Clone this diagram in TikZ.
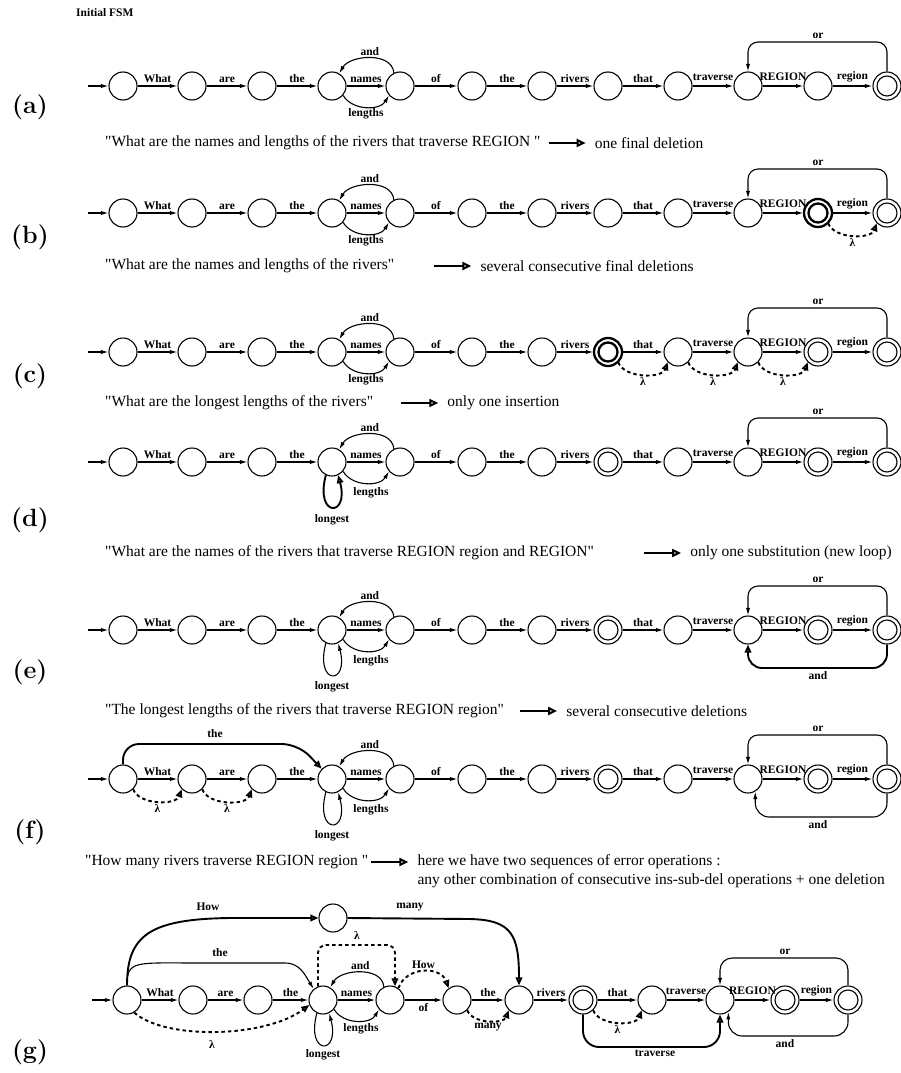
\documentclass[tikz,border=0pt]{standalone}
\usepackage{fontspec}
\setmainfont{Liberation Serif}
\newfontfamily\lmr{Latin Modern Roman}
\usetikzlibrary{arrows.meta,calc}
\newcommand\q{\textquotedbl}
\tikzset{
  sq/.style={circle,draw,line width=1.1pt,minimum size=28pt,inner sep=0pt},
  inr/.style={circle,draw,line width=1.1pt,minimum size=20pt,inner sep=0pt},
  ed/.style={-{Latex[length=7.5pt,width=4.2pt]},line width=1.1pt},
  er/.style={-{Triangle[open,length=8pt,width=6.5pt]},line width=1.9pt},
  lm/.style={er,dash pattern=on 3.5pt off 3pt},
  lb/.style={font=\bfseries\fontsize{11.5}{12}\selectfont,inner sep=1pt},
  sen/.style={font=\fontsize{15.5}{17}\selectfont,anchor=west,inner sep=0pt},
  tag/.style={font=\lmr\bfseries\fontsize{25}{27}\selectfont,inner sep=0pt},
  sarr/.style={-{Triangle[open,length=9pt,width=8pt]},line width=2pt},
}
\newcommand\rowbase[2]{%
  \foreach \i/\x in {1/123,2/192,3/262,4/332,5/400,6/472,7/542,8/608,9/678,10/748,11/818,12/887}{\node[sq] (#1\i) at (\x,-#2) {};}
  \coordinate (#1in) at (88,-#2);
  \draw[ed] (#1in) -- (#11);
  \draw[ed] (#11) -- node[lb,above=2pt]{What} (#12);
  \draw[ed] (#12) -- node[lb,above=2pt]{are} (#13);
  \draw[ed] (#13) -- node[lb,above=2pt]{the} (#14);
  \draw[ed] (#14) -- node[lb,above=2pt]{names} (#15);
  \draw[ed] (#15.115) to[out=95,in=60,looseness=1.0] node[lb,above=1pt]{and} (#14.60);
  \draw[ed] (#14.-40) to[out=-60,in=-120,looseness=1.0] (#15.-140);
  \draw[ed] (#15) -- node[lb,above=2pt]{of} (#16);
  \draw[ed] (#16) -- node[lb,above=2pt]{the} (#17);
  \draw[ed] (#17) -- node[lb,above=2pt]{rivers} (#18);
  \draw[ed] (#18) -- node[lb,above=2pt]{that} (#19);
  \draw[ed] (#19) -- node[lb,above=4pt]{traverse} (#110);
  \draw[ed] (#110) -- node[lb,above=4pt]{REGION} (#111);
  \draw[ed] (#111) -- node[lb,above=2pt]{region} (#112);
  \coordinate (#1or) at (818,-#2+44);
  \draw[ed,rounded corners=10pt] (#112.north) |- (#1or) -| (#110.north);
  \node[lb,above=2pt] (#1orl) at (#1or) {or};
}
\newcommand\fin[1]{\node[inr] (#1i) at (#1) {};}
\newcommand\bfin[1]{\node[sq,line width=2.3pt] (#1o) at (#1) {};\node[inr,line width=2.3pt,minimum size=19pt] (#1i) at (#1) {};}
\newcommand\lam[3]{\draw[lm] (#1.-45) to[out=-70,in=-110,looseness=0.9] node[lb,below=1pt] (#3) {λ} (#2.-135);}
\newcommand\longloop[2]{\draw[#2] (#1.-115) .. controls +(-105:44) and +(-75:44) .. (#1.-65);}
% sentence line: #1 name, #2 y, #3 x, #4 text, #5 gap, #6 result
\newcommand\sentence[6]{%
  \node[sen] (s#1) at (#3,-#2) {#4};
  \coordinate (s#1a) at ($(s#1.east)+(#5,0)$);
  \coordinate (s#1b) at ($(s#1a)+(37,0)$);
  \draw[sarr] (s#1a) -- (s#1b);
  \node[sen] (r#1) at ($(s#1b)+(9,0)$) {#6};
}
\begin{document}
\begin{tikzpicture}[x=1pt,y=1pt]
\useasboundingbox (0,0) rectangle (901,-1073);

\node[lb,anchor=west] (title) at (75,-13) {Initial FSM};

% ---------------- (a)
\rowbase{a}{86}
\fin{a12}
\node[lb] (alen) at (366,-114) {lengths};
\node[tag] (ta) at (30,-107) {(a)};
\sentence{a}{143}{105}{\q What are the names and lengths of the rivers that traverse REGION \q}{8}{one final deletion}

% ---------------- (b)
\rowbase{b}{213}
\bfin{b11}\fin{b12}
\lam{b11}{b12}{bl1}
\node[lb] (blen) at (366,-241) {lengths};
\node[tag] (tb) at (30,-237) {(b)};
\sentence{b}{266}{105}{\q What are the names and lengths of the rivers\q}{40}{several consecutive final deletions}

% ---------------- (c)
\rowbase{c}{352}
\bfin{c8}\fin{c11}\fin{c12}
\lam{c8}{c9}{cl1}\lam{c9}{c10}{cl2}\lam{c10}{c11}{cl3}
\node[lb] (clen) at (366,-380) {lengths};
\node[tag] (tc) at (30,-376) {(c)};
\sentence{c}{403}{105}{\q What are the longest lengths of the rivers\q}{28}{only one insertion}

% ---------------- (d)
\rowbase{d}{462}
\fin{d8}\fin{d11}\fin{d12}
\longloop{d4}{er}
\node[lb] (dlen) at (371,-493) {lengths};
\node[lb] (dlong) at (332,-520) {longest};
\node[tag] (td) at (30,-520) {(d)};
\sentence{d}{553}{105}{\q What are the names of the rivers that traverse REGION region and REGION\q}{50}{only one substitution (new loop)}

% ---------------- (e)
\rowbase{e}{630}
\fin{e8}\fin{e11}\fin{e12}
\longloop{e4}{ed}
\coordinate (eand) at (818,-668);
\draw[er,rounded corners=14pt] (e12.south) |- (eand) -| (e10.south);
\node[lb,below=2pt] (eandl) at (eand) {and};
\node[lb] (elen) at (371,-661) {lengths};
\node[lb] (elong) at (332,-687) {longest};
\node[tag] (te) at (30,-672) {(e)};
\sentence{e}{711}{105}{\q The longest lengths of the rivers that traverse REGION region\q}{16}{several consecutive deletions}

% ---------------- (f)
\rowbase{f}{779}
\fin{f8}\fin{f11}\fin{f12}
\longloop{f4}{ed}
\lam{f1}{f2}{fl1}\lam{f2}{f3}{fl2}
\coordinate (fthe1) at (123,-744); \coordinate (fthe2) at (298,-744);
\draw[er,rounded corners=16pt] (f1.north) -- (fthe1) -- (fthe2) -- (f4.135);
\node[lb] (fthel) at (215,-734) {the};
\coordinate (fand) at (818,-817);
\draw[ed,rounded corners=14pt] (f12.south) |- (fand) -| (f10.-60);
\node[lb,below=2pt] (fandl) at (fand) {and};
\node[lb] (flen) at (371,-810) {lengths};
\node[lb] (flong) at (332,-836) {longest};
\node[tag] (tf) at (30,-832) {(f)};
\sentence{f}{862}{85}{\q How many rivers traverse REGION region \q}{3}{here we have two sequences of error operations :}
\node[sen] (rf2) at (rf.west |- 0,-881) {any other combination of consecutive ins-sub-del operations + one deletion};

% ---------------- (g)
\foreach \i/\x in {1/127,2/193,3/258,4/323,5/390,6/457,7/519,8/583,9/652,10/720,11/785,12/848}{\node[sq] (g\i) at (\x,-1000) {};}
\node[sq] (gT) at (333,-918) {};
\fin{g8}\fin{g11}\fin{g12}
\coordinate (gin) at (92,-1000);
\draw[ed] (gin) -- (g1);
\draw[ed] (g1) -- node[lb,above=2pt]{What} (g2);
\draw[ed] (g2) -- node[lb,above=2pt]{are} (g3);
\draw[ed] (g3) -- node[lb,above=2pt]{the} (g4);
\draw[ed] (g4) -- node[lb,above=2pt]{names} (g5);
\draw[ed] (g5.115) to[out=95,in=60,looseness=1.0] node[lb,above=1pt]{and} (g4.60);
\draw[ed] (g4.-40) to[out=-60,in=-120,looseness=1.0] (g5.-140);
\node[lb] (glen) at (361,-1029) {lengths};
\longloop{g4}{ed}
\node[lb] (glong) at (323,-1055) {longest};
\draw[ed] (g5) -- node[lb,below=2pt]{of} (g6);
\draw[lm] (g5.55) to[out=70,in=110,looseness=1.2] node[lb,above=1pt]{How} (g6.125);
\draw[ed] (g6) -- node[lb,above=2pt]{the} (g7);
\draw[lm] (g6.-45) to[out=-70,in=-110,looseness=0.9] node[lb,below=1pt]{many} (g7.-135);
\draw[ed] (g7) -- node[lb,above=2pt]{rivers} (g8);
\draw[ed] (g8) -- node[lb,above=2pt]{that} (g9);
\lam{g8}{g9}{gl1}
\draw[ed] (g9) -- node[lb,above=4pt]{traverse} (g10);
\draw[ed] (g10) -- node[lb,above=4pt]{REGION} (g11);
\draw[ed] (g11) -- node[lb,above=2pt]{region} (g12);
\coordinate (gor) at (785,-958);
\draw[ed,rounded corners=12pt] (g12.north) |- (gor) -| (g10.north);
\node[lb,above=2pt] (gorl) at (gor) {or};
\coordinate (gand) at (785,-1036);
\draw[ed,rounded corners=14pt] (g12.south) |- (gand) -| (g10.-55);
\node[lb,below=2pt] (gandl) at (gand) {and};
\coordinate (gtr) at (655,-1047);
\draw[er,rounded corners=16pt] (g8.south) |- (gtr) -| (g10.south);
\node[lb,below=2pt] (gtrl) at (gtr) {traverse};
% long arcs from g1
\draw[ed] (g1.north) .. controls (127,-960) and (135,-963) .. (200,-963) -- (285,-963) .. controls (300,-963) and (305,-975) .. (g4.130);
\node[lb] (gthel) at (220,-953) {the};
\draw[er] (g1.north) .. controls (127,-935) and (150,-919) .. (230,-918) -- (gT.west);
\node[lb] (ghowl) at (208,-907) {How};
\draw[er] (gT.east) -- (470,-919) .. controls (512,-920) and (519,-935) .. (g7.north);
\node[lb] (gmanyl) at (410,-907) {many};
\coordinate (glam1) at (355,-945);
\draw[lm,rounded corners=8pt] (g4.110) |- (glam1) -| (g5.70);
\node[lb] (glaml) at (357,-935) {λ};
\draw[lm] (g1.-60) .. controls (165,-1040) and (265,-1038) .. (g4.-160);
\node[lb] (glam2l) at (212,-1044) {λ};
\node[tag] (tg) at (30,-1052) {(g)};
\end{tikzpicture}
\end{document}
